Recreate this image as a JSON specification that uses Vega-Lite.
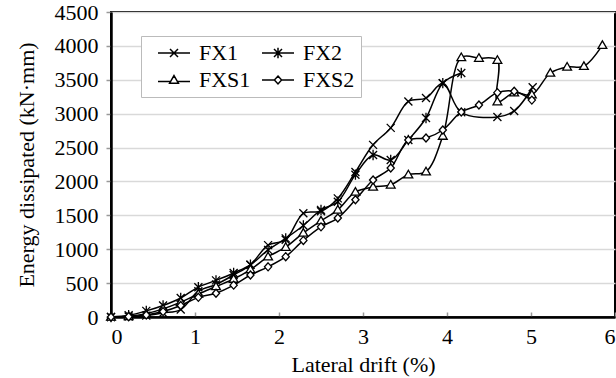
{
  "$schema": "https://vega.github.io/schema/vega-lite/v6.json",
  "width": 504,
  "height": 305,
  "autosize": {"type": "none"},
  "padding": {"left": 111, "top": 12, "right": 1, "bottom": 61},
  "background": "white",
  "config": {
    "view": {"stroke": "black", "strokeWidth": 2},
    "font": "Liberation Serif"
  },
  "data": {
    "values": [
      {"s":"FX1","i":0,"x":0,"y":0},{"s":"FX1","i":1,"x":0.21,"y":5},{"s":"FX1","i":2,"x":0.42,"y":20},{"s":"FX1","i":3,"x":0.62,"y":60},{"s":"FX1","i":4,"x":0.83,"y":110},{"s":"FX1","i":5,"x":1.04,"y":380},{"s":"FX1","i":6,"x":1.25,"y":480},{"s":"FX1","i":7,"x":1.46,"y":620},{"s":"FX1","i":8,"x":1.66,"y":770},{"s":"FX1","i":9,"x":1.87,"y":1060},{"s":"FX1","i":10,"x":2.08,"y":1140},{"s":"FX1","i":11,"x":2.29,"y":1530},{"s":"FX1","i":12,"x":2.5,"y":1560},{"s":"FX1","i":13,"x":2.7,"y":1750},{"s":"FX1","i":14,"x":2.91,"y":2140},{"s":"FX1","i":15,"x":3.12,"y":2540},{"s":"FX1","i":16,"x":3.33,"y":2790},{"s":"FX1","i":17,"x":3.54,"y":3180},{"s":"FX1","i":18,"x":3.75,"y":3230},{"s":"FX1","i":19,"x":3.95,"y":3450},{"s":"FX1","i":20,"x":4.17,"y":3020},{"s":"FX1","i":21,"x":4.6,"y":2950},{"s":"FX1","i":22,"x":4.8,"y":3040},{"s":"FX1","i":23,"x":5.02,"y":3390},
      {"s":"FX2","i":0,"x":0,"y":0},{"s":"FX2","i":1,"x":0.21,"y":25},{"s":"FX2","i":2,"x":0.42,"y":90},{"s":"FX2","i":3,"x":0.62,"y":170},{"s":"FX2","i":4,"x":0.83,"y":280},{"s":"FX2","i":5,"x":1.04,"y":440},{"s":"FX2","i":6,"x":1.25,"y":540},{"s":"FX2","i":7,"x":1.46,"y":650},{"s":"FX2","i":8,"x":1.66,"y":770},{"s":"FX2","i":9,"x":1.87,"y":990},{"s":"FX2","i":10,"x":2.08,"y":1160},{"s":"FX2","i":11,"x":2.29,"y":1350},{"s":"FX2","i":12,"x":2.5,"y":1580},{"s":"FX2","i":13,"x":2.7,"y":1700},{"s":"FX2","i":14,"x":2.91,"y":2100},{"s":"FX2","i":15,"x":3.12,"y":2390},{"s":"FX2","i":16,"x":3.33,"y":2316},{"s":"FX2","i":17,"x":3.54,"y":2611},{"s":"FX2","i":18,"x":3.75,"y":2936},{"s":"FX2","i":19,"x":3.95,"y":3450},{"s":"FX2","i":20,"x":4.17,"y":3600},
      {"s":"FXS1","i":0,"x":0,"y":0},{"s":"FXS1","i":1,"x":0.21,"y":10},{"s":"FXS1","i":2,"x":0.42,"y":50},{"s":"FXS1","i":3,"x":0.62,"y":120},{"s":"FXS1","i":4,"x":0.83,"y":220},{"s":"FXS1","i":5,"x":1.04,"y":340},{"s":"FXS1","i":6,"x":1.25,"y":450},{"s":"FXS1","i":7,"x":1.46,"y":560},{"s":"FXS1","i":8,"x":1.66,"y":700},{"s":"FXS1","i":9,"x":1.87,"y":890},{"s":"FXS1","i":10,"x":2.08,"y":1030},{"s":"FXS1","i":11,"x":2.29,"y":1240},{"s":"FXS1","i":12,"x":2.5,"y":1420},{"s":"FXS1","i":13,"x":2.7,"y":1580},{"s":"FXS1","i":14,"x":2.91,"y":1845},{"s":"FXS1","i":15,"x":3.12,"y":1918},{"s":"FXS1","i":16,"x":3.33,"y":1950},{"s":"FXS1","i":17,"x":3.54,"y":2100},{"s":"FXS1","i":18,"x":3.75,"y":2145},{"s":"FXS1","i":19,"x":3.95,"y":2670},{"s":"FXS1","i":20,"x":4.17,"y":3830},{"s":"FXS1","i":21,"x":4.38,"y":3820},{"s":"FXS1","i":22,"x":4.6,"y":3790},{"s":"FXS1","i":23,"x":4.6,"y":3177},{"s":"FXS1","i":24,"x":4.8,"y":3310},{"s":"FXS1","i":25,"x":5.01,"y":3280},{"s":"FXS1","i":26,"x":5.23,"y":3600},{"s":"FXS1","i":27,"x":5.43,"y":3690},{"s":"FXS1","i":28,"x":5.63,"y":3700},{"s":"FXS1","i":29,"x":5.85,"y":4010},
      {"s":"FXS2","i":0,"x":0,"y":0},{"s":"FXS2","i":1,"x":0.21,"y":5},{"s":"FXS2","i":2,"x":0.42,"y":30},{"s":"FXS2","i":3,"x":0.62,"y":80},{"s":"FXS2","i":4,"x":0.83,"y":170},{"s":"FXS2","i":5,"x":1.04,"y":290},{"s":"FXS2","i":6,"x":1.25,"y":350},{"s":"FXS2","i":7,"x":1.46,"y":470},{"s":"FXS2","i":8,"x":1.66,"y":620},{"s":"FXS2","i":9,"x":1.87,"y":740},{"s":"FXS2","i":10,"x":2.08,"y":890},{"s":"FXS2","i":11,"x":2.29,"y":1130},{"s":"FXS2","i":12,"x":2.5,"y":1330},{"s":"FXS2","i":13,"x":2.7,"y":1460},{"s":"FXS2","i":14,"x":2.91,"y":1730},{"s":"FXS2","i":15,"x":3.12,"y":2021},{"s":"FXS2","i":16,"x":3.33,"y":2198},{"s":"FXS2","i":17,"x":3.54,"y":2611},{"s":"FXS2","i":18,"x":3.75,"y":2641},{"s":"FXS2","i":19,"x":3.95,"y":2759},{"s":"FXS2","i":20,"x":4.17,"y":3025},{"s":"FXS2","i":21,"x":4.38,"y":3128},{"s":"FXS2","i":22,"x":4.6,"y":3310},{"s":"FXS2","i":23,"x":4.8,"y":3330},{"s":"FXS2","i":24,"x":5.01,"y":3200}
    ]
  },
  "encoding": {
    "x": {
      "field": "x", "type": "quantitative",
      "scale": {"domain": [0, 6], "nice": false},
      "axis": {
        "title": "Lateral drift (%)", "values": [0,1,2,3,4,5,6], "format": "d",
        "grid": false, "domainColor": "black", "domainWidth": 2.5,
        "tickColor": "#999999", "tickSize": -5, "tickWidth": 1.5,
        "labelFont": "Liberation Serif", "labelFontSize": 22, "labelColor": "black", "labelPadding": 14,
        "titleFont": "Liberation Serif", "titleFontSize": 22, "titleFontWeight": "normal", "titleColor": "black", "titlePadding": 7
      }
    },
    "y": {
      "field": "y", "type": "quantitative",
      "scale": {"domain": [0, 4500], "nice": false},
      "axis": {
        "title": "Energy dissipated (kN·mm)", "values": [0,500,1000,1500,2000,2500,3000,3500,4000,4500], "format": "d",
        "grid": true, "gridColor": "#d9d9d9", "gridWidth": 1.5,
        "domainColor": "black", "domainWidth": 2.5,
        "tickColor": "#999999", "tickSize": 5, "tickWidth": 1.5,
        "labelFont": "Liberation Serif", "labelFontSize": 22, "labelColor": "black", "labelPadding": 8,
        "titleFont": "Liberation Serif", "titleFontSize": 22, "titleFontWeight": "normal", "titleColor": "black", "titlePadding": 16
      }
    }
  },
  "layer": [
    {
      "mark": {"type": "line", "color": "black", "strokeWidth": 1.5, "interpolate": "catmull-rom"},
      "encoding": {
        "detail": {"field": "s"},
        "order": {"field": "i", "type": "quantitative"}
      }
    },
    {
      "mark": {"type": "point", "filled": true, "fill": "white", "stroke": "black", "strokeWidth": 1.3, "size": 64, "opacity": 1},
      "encoding": {
        "shape": {
          "field": "s", "type": "nominal",
          "scale": {
            "domain": ["FX1", "FX2", "FXS1", "FXS2"],
            "range": [
              "M-1,-1L1,1M-1,1L1,-1",
              "M-1,-1L1,1M-1,1L1,-1M0,-1.3L0,1.3",
              "M0,-1.1L1.1,0.8L-1.1,0.8Z",
              "M0,-1L0.9,0L0,1L-0.9,0Z"
            ]
          },
          "legend": null
        }
      }
    },
    {
      "mark": {"type": "point", "filled": true, "fill": "white", "stroke": "black", "strokeWidth": 1.3, "size": 64, "opacity": 0},
      "encoding": {
        "shape": {
          "field": "s", "type": "nominal",
          "scale": {
            "domain": ["FX1", "FX2", "FXS1", "FXS2"],
            "range": [
              "M-4,0L4,0M-1,-1L1,1M-1,1L1,-1",
              "M-4,0L4,0M-1,-1L1,1M-1,1L1,-1M0,-1.3L0,1.3",
              "M-4,0.4L-0.7,0.4M0.7,0.4L4,0.4M0,-1.1L1.1,0.8L-1.1,0.8Z",
              "M-4,0L-0.9,0M0.9,0L4,0M0,-1L0.9,0L0,1L-0.9,0Z"
            ]
          },
          "legend": {
            "orient": "none", "legendX": 30, "legendY": 24, "columns": 2, "direction": "horizontal", "title": null,
            "symbolSize": 64, "symbolOffset": 16, "labelOffset": 14,
            "labelFont": "Liberation Serif", "labelFontSize": 22, "labelColor": "black",
            "fillColor": "white", "strokeColor": "#bbbbbb", "padding": 6,
            "columnPadding": -34, "rowPadding": 5,
            "encode": {
              "symbols": {
                "stroke": {"value": "black"},
                "fill": {"value": "white"},
                "strokeWidth": {"value": 1.3},
                "opacity": {"value": 1}
              }
            }
          }
        }
      }
    }
  ],
  "resolve": {"scale": {"shape": "independent"}, "legend": {"shape": "independent"}}
}
